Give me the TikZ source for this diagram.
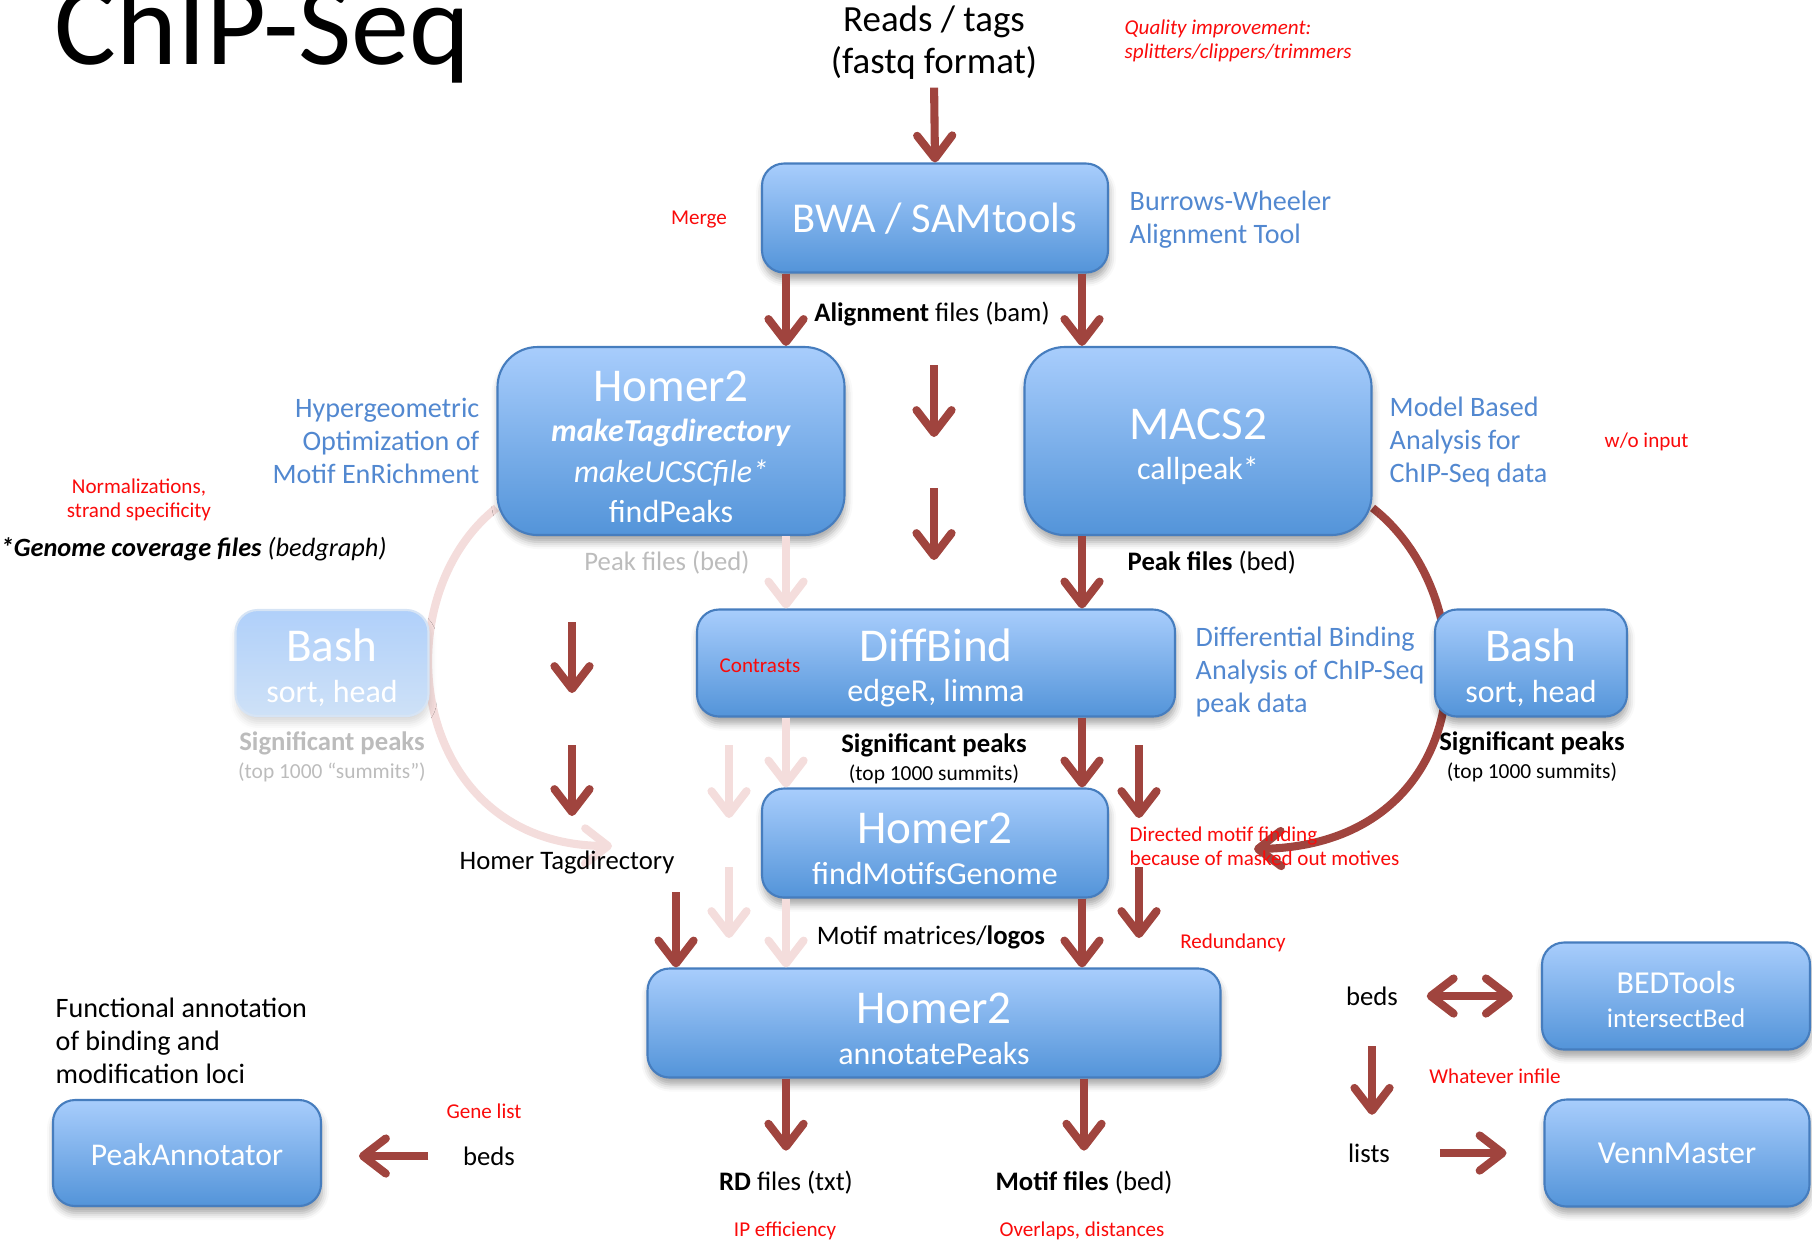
\documentclass[tikz,border=0pt]{standalone}
\usepackage{fontspec}
\setmainfont{Carlito}
\usetikzlibrary{arrows.meta,shadows.blur,backgrounds}

\definecolor{arrowred}{RGB}{160,68,62}
\definecolor{fadedred}{RGB}{244,221,220}
\definecolor{boxtop}{RGB}{168,205,252}
\definecolor{boxbottom}{RGB}{83,148,217}
\definecolor{boxline}{RGB}{70,125,190}
\definecolor{fadetop}{RGB}{176,208,250}
\definecolor{fadebottom}{RGB}{206,225,247}
\definecolor{fadeline}{RGB}{214,228,245}
\definecolor{notered}{RGB}{250,10,10}
\definecolor{infoblue}{RGB}{82,136,208}
\definecolor{fadedgrey}{RGB}{188,188,188}

% tool names: a strut on the first line sets the text a little lower in the box
\newcommand{\fnTool}{\fontsize{13.4}{11.5}\selectfont\rule{0pt}{12pt}}
\newcommand{\fnSub}{\fontsize{9.1}{11.5}\selectfont}
\newcommand{\fnInfo}{\fontsize{8}{9.4}\selectfont}
\newcommand{\fnFile}{\fontsize{7.6}{8}\selectfont}
\newcommand{\fnSmall}{\fontsize{6.1}{8}\selectfont}
\newcommand{\fnRemark}{\fontsize{6}{6.8}\selectfont}

\begin{document}
\begin{tikzpicture}[x=0.1mm, y=-0.1mm,
    toolbase/.style={draw=boxline, line width=0.6pt, rounded corners=2.2mm,
                     top color=boxtop, bottom color=boxbottom, text=white,
                     align=center, font=\fnSub},
    tool/.style={toolbase, blur shadow={shadow xshift=0.3pt, shadow yshift=-2pt,
                     shadow blur radius=2pt, shadow opacity=35}},
    fadedtool/.style={toolbase, draw=fadeline, top color=fadetop, bottom color=fadebottom,
                     blur shadow={shadow xshift=0.3pt, shadow yshift=-2pt,
                     shadow blur radius=2pt, shadow opacity=15}},
    flow/.style={draw=arrowred, line width=2.3pt,
                 -{Straight Barb[length=6.5pt, width=10pt, round]}},
    twoway/.style={flow, {Straight Barb[length=6.5pt, width=10pt, round]}-{Straight Barb[length=6.5pt, width=10pt, round]}},
    fadedflow/.style={flow, draw=fadedred},
    info/.style={text=infoblue, font=\fnInfo},
    remark/.style={text=notered, font=\fnRemark},
    files/.style={font=\fnFile}]

    \tikzstyle{every node}=[inner sep=0pt]
    \useasboundingbox (0,0) rectangle (1812,1242);

    % title and input
    \node[anchor=base west, font=\fontsize{33}{33}\selectfont] (title) at (54,64) {ChIP-Seq};
    \node[align=center, font=\fontsize{10.5}{12}\selectfont] (reads) at (934,43) {Reads / tags\\(fastq format)};
    \node[remark, font=\fnRemark\itshape, anchor=west, align=left] (quality) at (1124,41)
        {Quality improvement:\\splitters/clippers/trimmers};

    % alignment
    \node[tool, minimum width=34.6mm, minimum height=10.9mm, font=\fontsize{12.1}{12}\selectfont] (bwa) at (935,218) {\rule{0pt}{9pt}BWA / SAMtools};
    \node[remark] (merge) at (699,220) {Merge};
    \node[info, anchor=west, align=left] (bwainfo) at (1129,220) {Burrows-Wheeler\\Alignment Tool};
    \node[files] (bam) at (932,314) {\textbf{Alignment} files (bam)};

    % peak calling
    \node[tool, minimum width=34.7mm, minimum height=18.8mm, rounded corners=4mm] (homer) at (671,441)
        {{\fnTool Homer2}\\\textbf{\textit{makeTagdirectory}}\\\textit{makeUCSCfile*}\\findPeaks};
    \node[info, anchor=east, align=right] (homerinfo) at (480,441) {Hypergeometric\\Optimization of\\Motif EnRichment};
    \node[tool, minimum width=34.7mm, minimum height=18.8mm, rounded corners=4mm] (macs) at (1198,441)
        {{\fnTool MACS2}\\callpeak*};
    \node[info, anchor=west, align=left] (macsinfo) at (1389,442) {Model Based\\Analysis for\\ChIP-Seq data};
    \node[remark, anchor=west] (noinput) at (1604,442) {w/o input};
    \node[remark, align=center] (norm) at (139,500) {Normalizations,\\strand specificity};
    \node[anchor=west, font=\fontsize{7.5}{8}\selectfont\itshape] (coverage) at (0,549)
        {\textbf{*Genome coverage files} (bedgraph)};
    \node[files, text=fadedgrey] (peakfaded) at (667,563) {Peak files (bed)};
    \node[files, anchor=west] (peaks) at (1127,563) {\textbf{Peak files} (bed)};

    % differential binding
    \node[fadedtool, minimum width=19.3mm, minimum height=10.6mm] (bashl) at (332,663) {{\fnTool Bash}\\sort, head};
    \node[files, text=fadedgrey, align=center] (sigl) at (332,757)
        {\textbf{Significant peaks}\\{\fnSmall(top 1000 “summits”)}};
    \node[tool, minimum width=47.8mm, minimum height=10.7mm] (diffbind) at (936,663) {{\fnTool DiffBind}\\edgeR, limma};
    \node[remark] (contrasts) at (760,666) {Contrasts};
    \node[info, anchor=west, align=left] (diffinfo) at (1195,672)
        {Differential Binding\\Analysis of ChIP-Seq\\peak data};
    \node[tool, minimum width=19.2mm, minimum height=10.7mm] (bashr) at (1531,663) {{\fnTool Bash}\\sort, head};
    \node[files, align=center] (sigr) at (1532,757) {\textbf{Significant peaks}\\{\fnSmall(top 1000 summits)}};
    \node[files, align=center] (sigm) at (934,759) {\textbf{Significant peaks}\\{\fnSmall(top 1000 summits)}};

    % motif finding
    \node[files] (tagdir) at (567,862) {Homer Tagdirectory};
    \node[tool, minimum width=34.6mm, minimum height=10.9mm] (motifs) at (935,843) {{\fnTool Homer2}\\findMotifsGenome};
    \node[remark, anchor=west, align=left] (directed) at (1129,846) {Directed motif finding\\because of masked out motives};
    \node[files] (matrices) at (931,937) {Motif matrices/\textbf{logos}};
    \node[remark] (redundancy) at (1233,943) {Redundancy};

    % annotation
    \node[tool, minimum width=57.3mm, minimum height=10.9mm] (annot) at (934,1023) {{\fnTool Homer2}\\annotatePeaks};
    \node[anchor=west, align=left, font=\fnInfo] (functional) at (55,1041)
        {Functional annotation\\of binding and\\modification loci};
    \node[tool, minimum width=26.8mm, minimum height=10.6mm, font=\fontsize{9}{11}\selectfont] (peakann) at (187,1153) {\rule{0pt}{7pt}PeakAnnotator};
    \node[remark] (genelist) at (484,1111) {Gene list};
    \node[files] (bedsl) at (489,1156) {beds};
    \node[files] (rd) at (786,1183) {\textbf{RD} files (txt)};
    \node[files] (motiffiles) at (1084,1183) {\textbf{Motif files} (bed)};
    \node[remark] (ip) at (785,1231) {IP efficiency};
    \node[remark] (overlaps) at (1082,1231) {Overlaps, distances};

    % overlaps
    \node[files] (bedsr) at (1372,996) {beds};
    \node[remark] (whatever) at (1495,1076) {Whatever infile};
    \node[files] (lists) at (1369,1153) {lists};
    \node[tool, minimum width=26.8mm, minimum height=10.7mm, font=\fontsize{7.7}{9.7}\selectfont] (bedtools) at (1676,996)
        {{\fontsize{9.1}{9.7}\selectfont\rule{0pt}{8.5pt}BEDTools}\\intersectBed};
    \node[tool, minimum width=26.5mm, minimum height=10.7mm, font=\fontsize{9.1}{11}\selectfont] (venn) at (1677,1153) {VennMaster};

    % connectors
    \foreach \name/\xpos in {cola/786, colb/1082}
        \coordinate (\name) at (\xpos,0);

    \draw[flow, shorten <=2pt] (reads.south) -- (bwa.north);
    \draw[flow] (bwa.south -| cola) -- (homer.north -| cola);
    \draw[flow] (bwa.south -| colb) -- (macs.north -| colb);
    \draw[flow] (macs.south -| colb) -- (diffbind.north -| colb);
    \draw[flow] (diffbind.south -| colb) -- (motifs.north -| colb);
    \draw[flow] (motifs.south -| colb) -- (annot.north -| colb);
    \draw[fadedflow] (homer.south -| cola) -- (diffbind.north -| cola);
    \draw[fadedflow] (diffbind.south -| cola) -- (motifs.north -| cola);
    \draw[fadedflow] (motifs.south -| cola) -- (annot.north -| cola);

    \foreach \name/\xpos/\ytop/\ybot in {mida/934/365/437, midb/934/488/560, tagdira/572/622/693,
                                         tagdirb/572/745/816, redunda/1139/745/818, redundb/1139/867/938}{
        \coordinate (\name-top) at (\xpos,\ytop);
        \coordinate (\name-bot) at (\xpos,\ybot);
        \draw[flow] (\name-top) -- (\name-bot);
    }
    \foreach \name/\xpos/\ytop/\ybot in {fadeda/729/745/818, fadedb/729/867/938}{
        \coordinate (\name-top) at (\xpos,\ytop);
        \coordinate (\name-bot) at (\xpos,\ybot);
        \draw[fadedflow] (\name-top) -- (\name-bot);
    }
    \coordinate (tagdirout) at (676,892);
    \draw[flow] (tagdirout) -- (annot.north -| tagdirout);

    \draw[flow, shorten >=5.7pt] (annot.south -| rd) -- (rd.north);
    \draw[flow, shorten >=5.7pt] (annot.south -| motiffiles) -- (motiffiles.north);
    \draw[flow, shorten <=9.7pt, shorten >=10.5pt] (bedsl.west) -- (peakann.east |- bedsl.west);
    \draw[twoway, shorten <=8pt, shorten >=8pt] (bedsr.east) -- (bedtools.west);
    \draw[flow, shorten <=11.4pt, shorten >=8pt] (bedsr.south) -- (bedsr.south |- lists.north);
    \draw[flow, shorten <=14pt, shorten >=10.5pt] (lists.east) -- (venn.west |- lists.east);

    \begin{pgfonlayer}{background}
    \coordinate (macsloop) at (1254,849);
    \draw[flow] ([yshift=8pt]macs.south east) .. controls (1490,600) and (1480,845) .. (macsloop);
    \coordinate (homerloop) at (612,846);
    \draw[fadedflow] ([yshift=8pt]homer.south west) .. controls (380,600) and (410,845) .. (homerloop);
    \end{pgfonlayer}
\end{tikzpicture}
\end{document}
